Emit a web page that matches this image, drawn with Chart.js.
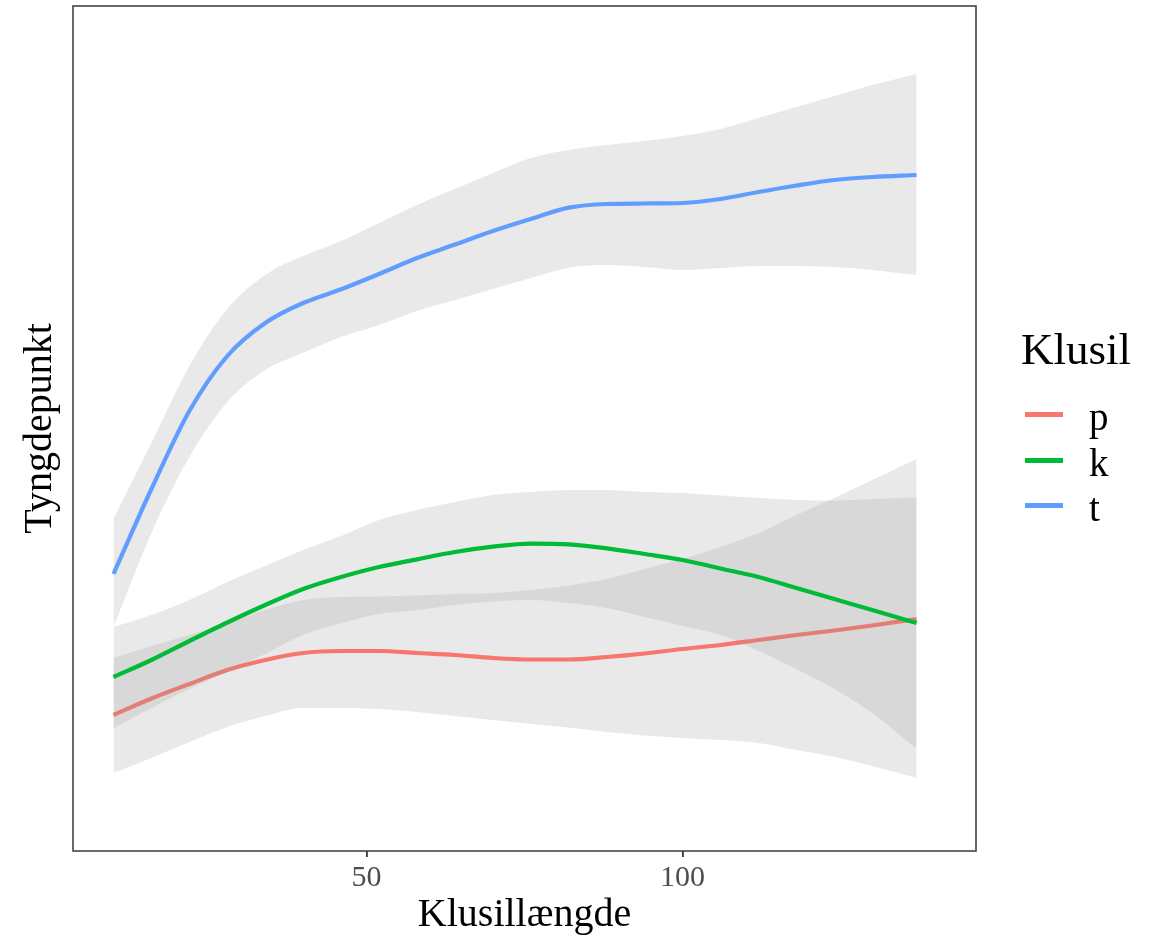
<!DOCTYPE html>
<html>
<head>
<meta charset="utf-8">
<script src="https://cdn.jsdelivr.net/npm/chart.js@4.4.1/dist/chart.umd.min.js"></script>
<style>
  html, body { margin: 0; padding: 0; background: #fff; }
  #wrap { position: relative; width: 1161px; height: 941px; }
  canvas { position: absolute; left: 0; top: 0; }
  .legend { position: absolute; font-family: "Liberation Serif", "Times New Roman", serif; color: #000; }
  .legend-title { left: 1021px; top: 327px; font-size: 45px; line-height: 45px; }
  .legend-key { position: absolute; left: 1025px; width: 38px; height: 5px; }
  .legend-label { position: absolute; left: 1089px; font-size: 39px; line-height: 39px; }
</style>
</head>
<body>
<div id="wrap">
  <canvas id="chart" width="1161" height="941"></canvas>
  <div class="legend legend-title">Klusil</div>
  <div id="legend-items"></div>
</div>
<script>
// Klusillængde grid the smoothers were evaluated on
const xs = [10, 16, 22, 28, 34, 40, 46, 52, 58, 64, 70, 76, 82, 88, 94, 100, 106, 112, 118, 124, 130, 137];

// p
const pFit   = [1816, 1915, 2002, 2086, 2146, 2188, 2200, 2200, 2188, 2176, 2158, 2149, 2149, 2164, 2185, 2212, 2236, 2266, 2296, 2323, 2353, 2392];
const pUpper = [2158, 2230, 2296, 2368, 2446, 2506, 2524, 2527, 2533, 2542, 2548, 2566, 2593, 2632, 2692, 2752, 2824, 2908, 3016, 3118, 3226, 3352];
const pLower = [1468, 1558, 1654, 1744, 1810, 1858, 1858, 1852, 1834, 1810, 1786, 1762, 1741, 1714, 1693, 1678, 1666, 1648, 1606, 1564, 1510, 1438];

// k
const kFit   = [2044, 2146, 2260, 2371, 2476, 2572, 2644, 2704, 2750, 2794, 2826, 2844, 2840, 2816, 2782, 2746, 2695, 2644, 2578, 2512, 2446, 2368];
const kUpper = [2344, 2416, 2506, 2614, 2710, 2806, 2890, 2986, 3046, 3094, 3136, 3154, 3166, 3166, 3154, 3148, 3133, 3118, 3106, 3103, 3112, 3121];
const kLower = [1738, 1858, 1972, 2074, 2182, 2296, 2368, 2422, 2446, 2476, 2497, 2506, 2488, 2458, 2404, 2350, 2296, 2200, 2092, 1972, 1828, 1612];

// t
const tFit   = [2662, 3172, 3640, 3970, 4168, 4288, 4370, 4462, 4558, 4639, 4720, 4792, 4860, 4882, 4885, 4888, 4912, 4954, 4993, 5026, 5044, 5056];
const tUpper = [2992, 3448, 3910, 4252, 4456, 4570, 4660, 4768, 4876, 4972, 5068, 5158, 5206, 5236, 5260, 5290, 5332, 5398, 5464, 5530, 5596, 5662];
const tLower = [2344, 2908, 3364, 3694, 3886, 3990, 4084, 4156, 4240, 4306, 4372, 4438, 4500, 4516, 4504, 4486, 4498, 4510, 4510, 4504, 4486, 4456];

const groups = ['p', 'k', 't'];
const colors = ['#F8766D', '#00BA38', '#619CFF'];
const xTicks = [50, 100];

const SERIF = '"Liberation Serif", "Times New Roman", serif';
const BAND = 'rgba(153,153,153,0.22)';

function pts(ys) {
  return xs.map(function (x, i) { return { x: x, y: ys[i] }; });
}

// ggplot draws ribbon then line per group, so later ribbons sit over earlier lines
function buildDatasets() {
  const series = [
    [pFit, pUpper, pLower],
    [kFit, kUpper, kLower],
    [tFit, tUpper, tLower]
  ];
  const out = [];
  let order = 9;
  series.forEach(function (s, i) {
    out.push({ label: groups[i] + ' lower', data: pts(s[2]), borderWidth: 0, pointRadius: 0, fill: false, order: order-- });
    out.push({ label: groups[i] + ' upper', data: pts(s[1]), borderWidth: 0, pointRadius: 0, fill: '-1', backgroundColor: BAND, order: order-- });
    out.push({ label: groups[i], data: pts(s[0]), borderColor: colors[i], borderWidth: 4.2, pointRadius: 0, fill: false, order: order-- });
  });
  return out;
}

// panel border on all four sides
const panelBorder = {
  id: 'panelBorder',
  afterDatasetsDraw(chart) {
    const a = chart.chartArea;
    const ctx = chart.ctx;
    ctx.save();
    ctx.strokeStyle = '#444444';
    ctx.lineWidth = 1.6;
    ctx.strokeRect(a.left, a.top, a.right - a.left, a.bottom - a.top);
    ctx.restore();
  }
};

new Chart(document.getElementById('chart'), {
  type: 'line',
  data: { datasets: buildDatasets() },
  options: {
    responsive: false,
    animation: false,
    layout: { padding: { left: 0, right: 185, top: 6, bottom: 0 } },
    elements: { line: { cubicInterpolationMode: 'monotone', borderCapStyle: 'butt', borderJoinStyle: 'round' } },
    plugins: { legend: { display: false }, tooltip: { enabled: false } },
    scales: {
      x: {
        type: 'linear',
        min: 3.6,
        max: 146.4,
        afterFit: function (s) { s.height = 90; },
        afterBuildTicks: function (s) { s.ticks = xTicks.map(function (v) { return { value: v }; }); },
        ticks: { color: '#4D4D4D', font: { family: SERIF, size: 30 }, padding: 3 },
        grid: { display: true, drawOnChartArea: false, drawTicks: true, tickLength: 6, color: '#333333', lineWidth: 1.8 },
        border: { display: false },
        title: { display: true, text: 'Klusillængde', color: '#000', font: { family: SERIF, size: 40 }, padding: { top: 0, bottom: 2 } }
      },
      y: {
        type: 'linear',
        min: 1000,
        max: 6070,
        afterFit: function (s) { s.width = 73; },
        ticks: { display: false },
        grid: { display: false },
        border: { display: false },
        title: { display: true, text: 'Tyngdepunkt', color: '#000', font: { family: SERIF, size: 40 }, padding: { top: 16, bottom: 0 } }
      }
    }
  },
  plugins: [panelBorder]
});

// legend entries
const holder = document.getElementById('legend-items');
const keyY = [412, 458, 503];
groups.forEach(function (g, i) {
  const key = document.createElement('div');
  key.className = 'legend-key';
  key.style.top = keyY[i] + 'px';
  key.style.background = colors[i];
  holder.appendChild(key);
  const lab = document.createElement('div');
  lab.className = 'legend legend-label';
  lab.style.top = (keyY[i] - 15) + 'px';
  lab.textContent = g;
  holder.appendChild(lab);
});
</script>
</body>
</html>
